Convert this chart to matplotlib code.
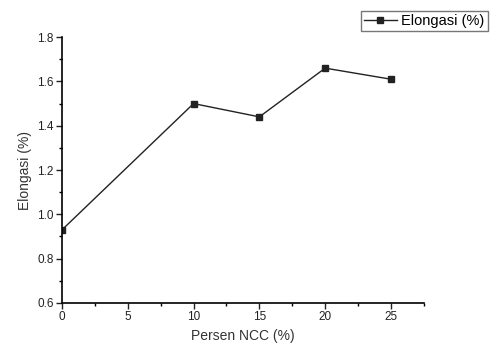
import matplotlib
matplotlib.use("Agg")
import matplotlib.pyplot as plt
from matplotlib.ticker import MultipleLocator

plt.rcParams['font.family'] = ['Liberation Sans', 'DejaVu Sans']

# data
persen_ncc = [0, 10, 15, 20, 25]
elongasi = [0.93, 1.50, 1.44, 1.66, 1.61]

fig = plt.figure(figsize=(4.9, 3.47), dpi=100)
ax = fig.add_axes([0.1265, 0.127, 0.7385, 0.766])

ax.plot(persen_ncc, elongasi, color='#222222', lw=1.0, marker='s', ms=4,
        label='Elongasi (%)')

ax.set_xlim(0, 27.5)
ax.set_ylim(0.6, 1.8)
ax.xaxis.set_major_locator(MultipleLocator(5))
ax.xaxis.set_minor_locator(MultipleLocator(2.5))
ax.yaxis.set_major_locator(MultipleLocator(0.2))
ax.yaxis.set_minor_locator(MultipleLocator(0.1))
ax.yaxis.set_major_formatter(plt.FormatStrFormatter('%.1f'))

for s in ['top', 'right']:
    ax.spines[s].set_visible(False)
ax.spines['left'].set_linewidth(1.2)
ax.spines['bottom'].set_linewidth(1.2)
ax.tick_params(which='major', direction='out', length=4, width=1, labelsize=8.5,
               colors='#222222', pad=2)
ax.tick_params(which='minor', direction='out', length=2.5, width=1)

ax.set_xlabel('Persen NCC (%)', fontsize=10, color='#333333', labelpad=4)
ax.set_ylabel('Elongasi (%)', fontsize=10, color='#333333', labelpad=4)

leg = fig.legend(loc='upper right', bbox_to_anchor=(1.01, 0.99), fontsize=10.5,
                 frameon=True, fancybox=False, edgecolor='#555555',
                 handlelength=2.3, borderpad=0.2, handletextpad=0.3)
leg.get_frame().set_linewidth(1.0)

fig.savefig('out.png', dpi=100)
